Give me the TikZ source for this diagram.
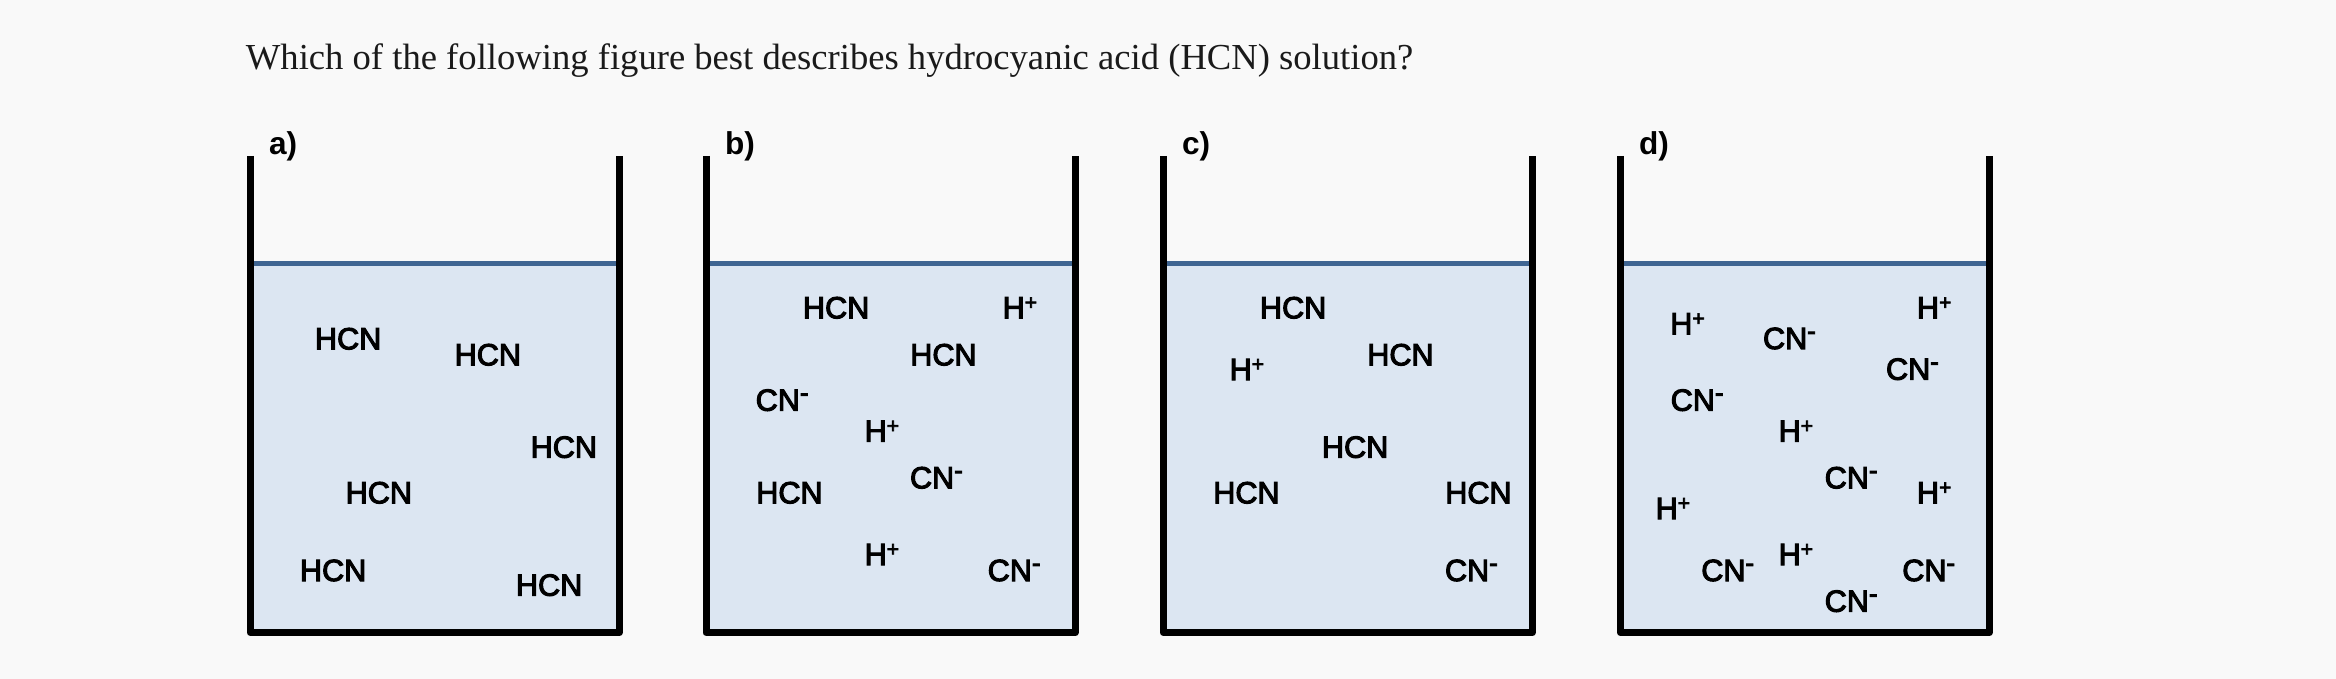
\documentclass[tikz,border=0pt]{standalone}
\usepackage{fontspec}
\setmainfont{Liberation Serif}
\newfontfamily\ionfont[RawFeature={embolden=3.5}]{Liberation Sans}
\newfontfamily\labfont{Liberation Sans Bold}
\definecolor{pagebg}{HTML}{F9F9F9}
\definecolor{waterfill}{HTML}{DCE6F2}
\definecolor{waterline}{HTML}{3F6592}
\newcommand{\hcnion}{HCN}
\newcommand{\hplus}{H\raisebox{4.4pt}{\fontsize{10.5}{10}\selectfont +}}
\newcommand{\cnminus}{CN\raisebox{4.6pt}{\fontsize{13}{13}\selectfont -}}
\newcommand{\beaker}[1]{%
  \fill[waterfill] (#1,263.5) rectangle (#1+369,632.7);
  \draw[surface] (#1,263.5) -- (#1+369,263.5);
  \draw[wall] (#1,156) -- (#1,632.7) -- (#1+369,632.7) -- (#1+369,156);
}
\tikzset{
  surface/.style={draw=waterline,line width=2.5pt},
  wall/.style={draw=black,line width=3.5pt,line join=round,line cap=butt},
  ion/.style={anchor=base west,inner sep=0pt,outer sep=0pt,text=black,font=\ionfont\fontsize{15.3}{18}\selectfont},
  lab/.style={anchor=base west,inner sep=0pt,outer sep=0pt,text=black,font=\labfont\fontsize{15.8}{18}\selectfont},
}
\begin{document}
\begin{tikzpicture}[x=0.5pt,y=-0.5pt]
\path[use as bounding box,fill=pagebg] (0,0) rectangle (2336,679);
\node[anchor=base west,inner sep=0pt,font=\fontsize{18.31}{21}\selectfont,text={rgb,255:red,26;green,26;blue,26}] (title) at (245.5,69.5) {Which of the following figure best describes hydrocyanic acid (HCN) solution?};
\beaker{250.3}
\beaker{706}
\beaker{1163.3}
\beaker{1620.3}
\node[lab] (la) at (269,154.5) {a)};
\node[lab] (lb) at (725,154.5) {b)};
\node[lab] (lc) at (1182,154.5) {c)};
\node[lab] (ld) at (1639,154.5) {d)};
% a
\node[ion] (a1) at (315,349.3) {\hcnion};
\node[ion] (a2) at (454.7,365.3) {\hcnion};
\node[ion] (a3) at (530.7,457.7) {\hcnion};
\node[ion] (a4) at (345.7,503.3) {\hcnion};
\node[ion] (a5) at (300,581) {\hcnion};
\node[ion] (a6) at (516,595.7) {\hcnion};
% b
\node[ion] (b1) at (803,318.3) {\hcnion};
\node[ion] (b2) at (1002.7,318.3) {\hplus};
\node[ion] (b3) at (910.3,365.3) {\hcnion};
\node[ion] (b4) at (755.7,410.7) {\cnminus};
\node[ion] (b5) at (864.7,441.7) {\hplus};
\node[ion] (b6) at (910,488.3) {\cnminus};
\node[ion] (b7) at (756.3,503.3) {\hcnion};
\node[ion] (b8) at (864.7,565) {\hplus};
\node[ion] (b9) at (987.7,581) {\cnminus};
% c
\node[ion] (c1) at (1260,318.3) {\hcnion};
\node[ion] (c2) at (1367.3,365.3) {\hcnion};
\node[ion] (c3) at (1229.7,380) {\hplus};
\node[ion] (c4) at (1322,457.7) {\hcnion};
\node[ion] (c5) at (1213.3,503.3) {\hcnion};
\node[ion] (c6) at (1445.3,503.3) {\hcnion};
\node[ion] (c7) at (1445,581) {\cnminus};
% d
\node[ion] (d1) at (1670.3,334.3) {\hplus};
\node[ion] (d2) at (1917,318.3) {\hplus};
\node[ion] (d3) at (1763,349) {\cnminus};
\node[ion] (d4) at (1886,379.7) {\cnminus};
\node[ion] (d5) at (1670.7,410.7) {\cnminus};
\node[ion] (d6) at (1778.7,441.7) {\hplus};
\node[ion] (d7) at (1824.7,488.3) {\cnminus};
\node[ion] (d8) at (1917,503.3) {\hplus};
\node[ion] (d9) at (1655.7,519) {\hplus};
\node[ion] (d10) at (1701.3,581) {\cnminus};
\node[ion] (d11) at (1778.7,565) {\hplus};
\node[ion] (d12) at (1902.3,581) {\cnminus};
\node[ion] (d13) at (1824.7,611.7) {\cnminus};
\end{tikzpicture}
\end{document}
